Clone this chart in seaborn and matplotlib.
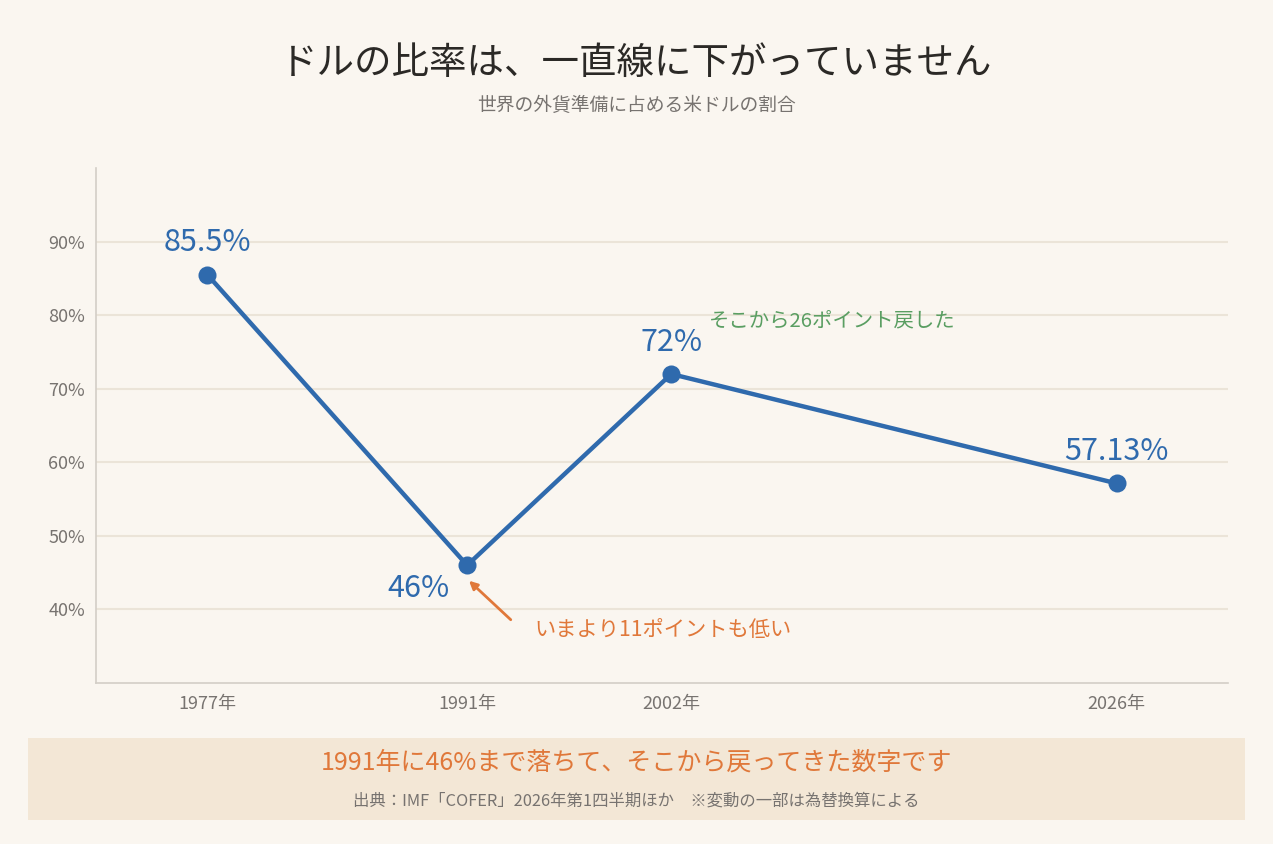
import matplotlib
matplotlib.use("Agg")
import matplotlib.pyplot as plt
import matplotlib.patches as mpatches
import seaborn as sns
import pandas as pd

years = [1977, 1991, 2002, 2026]
shares = [85.5, 46.0, 72.0, 57.13]
value_labels = ["85.5%", "46%", "72%", "57.13%"]
xtick_labels = ["1977年", "1991年", "2002年", "2026年"]
ytick_values = [40, 50, 60, 70, 80, 90]
ytick_labels = ["40%", "50%", "60%", "70%", "80%", "90%"]

title = "ドルの比率は、一直線に下がっていません"
subtitle = "世界の外貨準備に占める米ドルの割合"
note_low = "いまより11ポイントも低い"
note_back = "そこから26ポイント戻した"
footer_main = "1991年に46%まで落ちて、そこから戻ってきた数字です"
footer_src = "出典：IMF「COFER」2026年第1四半期ほか　※変動の一部は為替換算による"

BG = "#faf6f0"
BLUE = "#2f6aad"
ORANGE = "#e0783a"
GREEN = "#5a9e62"
GRAY = "#777370"
GRID = "#ebe4d8"
SPINE = "#d3cec7"

sns.set_theme(style="white")
plt.rcParams['font.family'] = ['Noto Sans CJK JP', 'DejaVu Sans']

df = pd.DataFrame({"year": years, "share": shares})

fig = plt.figure(figsize=(12.73, 8.44), dpi=100, facecolor=BG)
ax = fig.add_axes([96/1273, 1-683/844, (1228-96)/1273, (683-168)/844])
ax.set_facecolor(BG)

sns.lineplot(data=df, x="year", y="share", ax=ax, color=BLUE, linewidth=3.2,
             marker="o", markersize=13, markeredgewidth=0, zorder=3)

ax.set_xlim(1971, 2032)
ax.set_ylim(30, 100)
ax.set_xticks(years)
ax.set_xticklabels(xtick_labels)
ax.set_yticks(ytick_values)
ax.set_yticklabels(ytick_labels)
ax.set_xlabel("")
ax.set_ylabel("")
ax.tick_params(axis="both", colors=SPINE, labelcolor=GRAY, labelsize=13, length=4, width=1)
ax.tick_params(axis="x", pad=5)
ax.tick_params(axis="y", pad=4)
for t in ax.get_xticklabels() + ax.get_yticklabels():
    t.set_color(GRAY)

ax.grid(axis="y", color=GRID, linewidth=1.5, zorder=0)
ax.grid(axis="x", visible=False)
for s in ["top", "right"]:
    ax.spines[s].set_visible(False)
for s in ["left", "bottom"]:
    ax.spines[s].set_color(SPINE)
    ax.spines[s].set_linewidth(1.2)

offsets = [(0, 23), (-35, -17), (0, 23), (0, 23)]
for x, y, lab, off in zip(years, shares, value_labels, offsets):
    ax.annotate(lab, xy=(x, y), xytext=off, textcoords="offset points",
                ha="center", va="center", fontsize=22, color=BLUE, zorder=4)

ax.annotate("", xy=(1991.1, 43.9), xytext=(1993.35, 38.6),
            arrowprops=dict(arrowstyle="-|>", color=ORANGE, lw=2, mutation_scale=12,
                            shrinkA=0, shrinkB=0))
ax.text(1994.6, 37.2, note_low, ha="left", va="center", fontsize=15.3, color=ORANGE)
ax.text(2004.05, 79.2, note_back, ha="left", va="center", fontsize=14.7, color=GREEN)

fig.text(0.5, 1-63/844, title, ha="center", va="center", fontsize=27, color="#2b2926")
fig.text(0.5, 1-105/844, subtitle, ha="center", va="center", fontsize=13.5, color=GRAY)

box = mpatches.Rectangle((28/1273, 1-820/844), (1245-28)/1273, (820-738)/844,
                         transform=fig.transFigure, facecolor="#f3e7d6", edgecolor="none", zorder=0)
fig.patches.append(box)
fig.text(0.5, 1-763/844, footer_main, ha="center", va="center", fontsize=18, color=ORANGE)
fig.text(0.5, 1-801/844, footer_src, ha="center", va="center", fontsize=11.8, color=GRAY)

fig.savefig("out.png", dpi=100, facecolor=BG)
